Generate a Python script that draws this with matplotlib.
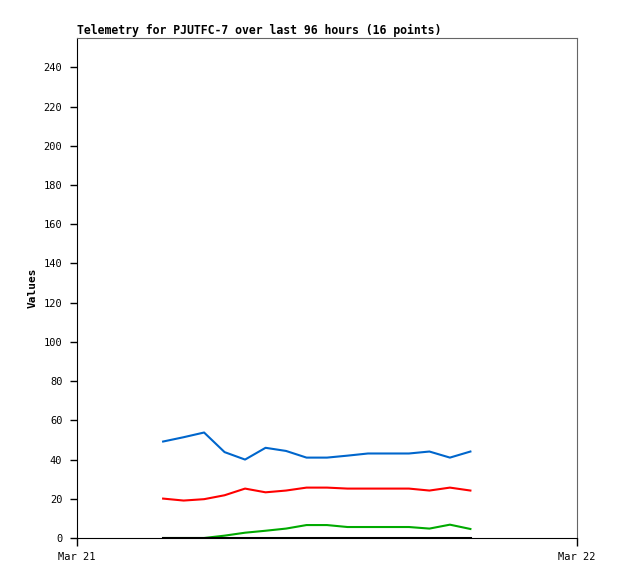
import pandas as pd
import matplotlib
matplotlib.use("Agg")
import matplotlib.pyplot as plt

# samples roughly hourly on Mar 21
times = pd.date_range("2024-03-21 04:08", periods=16, freq="59min")

blue = [49.2, 51.4, 53.8, 43.8, 40.0, 46.0, 44.4, 41.0, 41.0, 42.0, 43.1, 43.1, 43.1, 44.1, 41.0, 44.1]
red = [20.1, 19.1, 19.8, 21.8, 25.2, 23.3, 24.2, 25.7, 25.7, 25.2, 25.2, 25.2, 25.2, 24.2, 25.7, 24.2]
green = [0.0, 0.0, 0.0, 1.2, 2.7, 3.7, 4.8, 6.6, 6.6, 5.6, 5.6, 5.6, 5.6, 4.8, 6.8, 4.6]
black = [0.0] * 16

y_ticks = list(range(0, 241, 20))
x_ticks = [pd.Timestamp("2024-03-21"), pd.Timestamp("2024-03-22")]
x_labels = ["Mar 21", "Mar 22"]

mono = "DejaVu Sans Mono"

fig = plt.figure(figsize=(6.18, 5.79), dpi=100)
ax = fig.add_axes([77 / 618, 1 - 538 / 579, 500 / 618, 500 / 579])

ax.plot(times, blue, color="#0066cc", lw=1.5)
ax.plot(times, red, color="#ff0000", lw=1.5)
ax.plot(times, green, color="#00aa00", lw=1.5)
ax.plot(times, black, color="#000000", lw=2.2)

ax.set_xlim(x_ticks[0], x_ticks[1])
ax.set_ylim(0, 255)
ax.set_yticks(y_ticks)
ax.set_yticklabels([str(v) for v in y_ticks], fontfamily=mono, fontsize=7.5)
ax.set_xticks(x_ticks)
ax.set_xticklabels(x_labels, fontfamily=mono, fontsize=7.5)
ax.tick_params(axis="y", direction="out", length=5, width=1, color="black", pad=5.5)
ax.tick_params(axis="x", direction="out", length=6, width=1, color="black", pad=4)

for side in ["top", "right"]:
    ax.spines[side].set_color("#666666")
for side in ["left", "bottom"]:
    ax.spines[side].set_color("black")

ax.set_ylabel("Values", fontfamily=mono, fontweight="bold", fontsize=8, labelpad=4)
ax.set_title("Telemetry for PJUTFC-7 over last 96 hours (16 points)",
             loc="left", fontfamily=mono, fontweight="bold", fontsize=8.3, pad=3)

plt.savefig("out.png", dpi=100)
